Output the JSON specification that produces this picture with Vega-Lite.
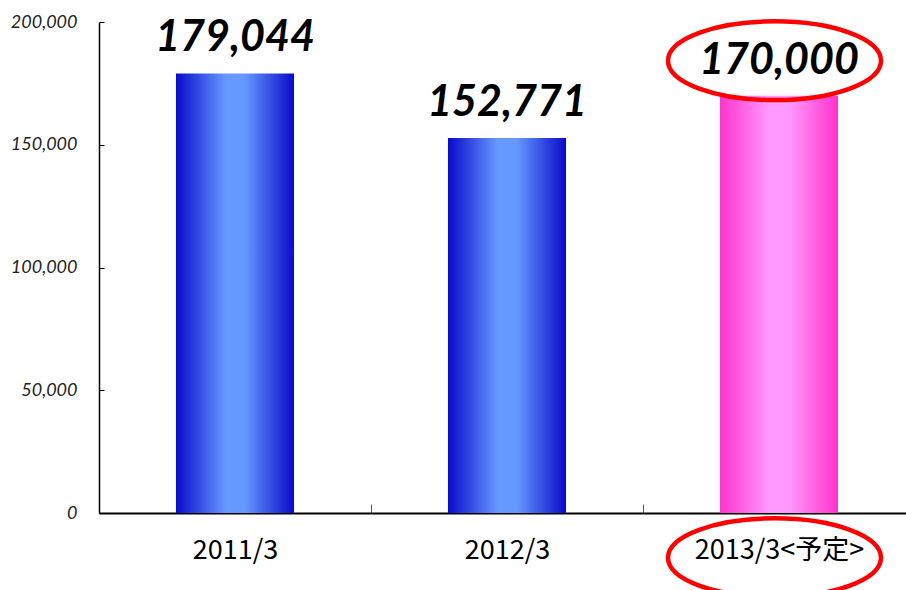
{
  "$schema": "https://vega.github.io/schema/vega-lite/v6.json",
  "width": 807,
  "height": 491,
  "autosize": {"type": "none"},
  "padding": {"left": 99, "top": 22, "right": 0, "bottom": 77},
  "background": "white",
  "config": {
    "view": {"stroke": null},
    "axisY": {
      "title": null,
      "labelFont": "Lato",
      "labelFontStyle": "italic",
      "labelFontSize": 18,
      "labelColor": "#222222",
      "labelPadding": 27,
      "domainColor": "#000000",
      "domainWidth": 1.5,
      "tickSize": -5,
      "tickColor": "#000000",
      "tickWidth": 1,
      "grid": false
    }
  },
  "data": {
    "values": [
      {"period": "2011/3", "sales": 179044, "kind": "actual"},
      {"period": "2012/3", "sales": 152771, "kind": "actual"},
      {"period": "2013/3<予定>", "sales": 170000, "kind": "forecast"}
    ]
  },
  "encoding": {
    "x": {
      "field": "period",
      "type": "nominal",
      "sort": null,
      "scale": {"range": [0, 816], "paddingInner": 0, "paddingOuter": 0},
      "axis": {
        "title": null,
        "labelAngle": 0,
        "labelFont": "Noto Sans CJK JP",
        "labelFontSize": 27,
        "labelColor": "#000000",
        "labelPadding": 33,
        "domainColor": "#000000",
        "domainWidth": 2.2,
        "tickBand": "extent",
        "tickSize": -9,
        "tickColor": "#555555",
        "tickWidth": 1,
        "grid": false
      }
    },
    "y": {
      "field": "sales",
      "type": "quantitative",
      "scale": {"domain": [0, 200000], "nice": false},
      "axis": {
        "title": null,
        "values": [0, 50000, 100000, 150000, 200000],
        "labelExpr": "format(datum.value, ',')"
      }
    }
  },
  "layer": [
    {
      "transform": [{"filter": "datum.kind === 'actual'"}],
      "mark": {
        "type": "bar",
        "width": {"band": 0.434},
        "color": {
          "gradient": "linear",
          "x1": 0, "x2": 1, "y1": 0, "y2": 0,
          "stops": [
            {"offset": 0, "color": "#0A0ACB"},
            {"offset": 0.42, "color": "#6699FF"},
            {"offset": 0.58, "color": "#6699FF"},
            {"offset": 1, "color": "#0A0ACB"}
          ]
        }
      }
    },
    {
      "transform": [{"filter": "datum.kind === 'forecast'"}],
      "mark": {
        "type": "bar",
        "width": {"band": 0.434},
        "color": {
          "gradient": "linear",
          "x1": 0, "x2": 1, "y1": 0, "y2": 0,
          "stops": [
            {"offset": 0, "color": "#FF33CC"},
            {"offset": 0.42, "color": "#FF99FF"},
            {"offset": 0.58, "color": "#FF99FF"},
            {"offset": 1, "color": "#FF33CC"}
          ]
        }
      }
    },
    {
      "mark": {
        "type": "text",
        "font": "Lato",
        "fontStyle": "italic",
        "fontWeight": "bold",
        "fontSize": 43,
        "baseline": "alphabetic",
        "align": "center",
        "dy": -22,
        "color": "#000000"
      },
      "encoding": {
        "text": {"field": "sales", "type": "quantitative", "format": ","}
      }
    },
    {
      "transform": [{"filter": "datum.kind === 'forecast'"}],
      "mark": {
        "type": "point",
        "shape": "M-1,0C-1,-0.2044,-0.5523,-0.37,0,-0.37C0.5523,-0.37,1,-0.2044,1,0C1,0.2044,0.5523,0.37,0,0.37C-0.5523,0.37,-1,0.2044,-1,0Z",
        "size": 45369,
        "filled": false,
        "stroke": "#FF0000",
        "strokeWidth": 4.5,
        "opacity": 1,
        "xOffset": -4.5,
        "yOffset": -35
      }
    },
    {
      "transform": [{"filter": "datum.kind === 'forecast'"}],
      "mark": {
        "type": "point",
        "shape": "M-1,0C-1,-0.2044,-0.5523,-0.37,0,-0.37C0.5523,-0.37,1,-0.2044,1,0C1,0.2044,0.5523,0.37,0,0.37C-0.5523,0.37,-1,0.2044,-1,0Z",
        "size": 45369,
        "filled": false,
        "stroke": "#FF0000",
        "strokeWidth": 4.5,
        "opacity": 1,
        "xOffset": -4.5,
        "yOffset": 462
      }
    }
  ]
}
